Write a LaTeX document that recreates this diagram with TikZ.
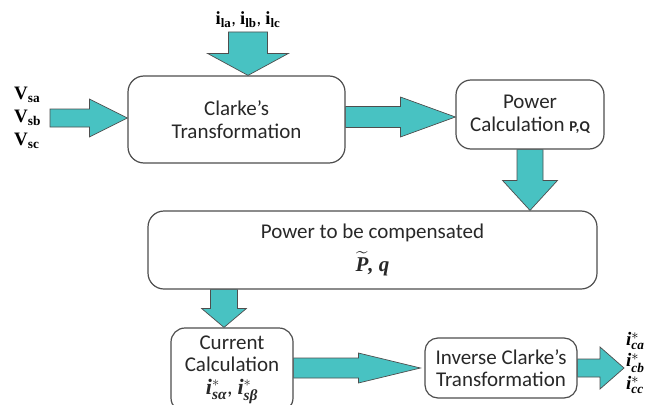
\documentclass[tikz,border=0pt]{standalone}
\usepackage{fontspec}
\usepackage{amsmath}
\setmainfont{Carlito}
\newfontfamily\tnr{Liberation Serif}
\usetikzlibrary{calc}
\definecolor{arrowteal}{RGB}{72,194,194}
\definecolor{edgegray}{RGB}{78,78,78}
\definecolor{textgray}{RGB}{40,40,40}
\newcommand{\fatarrow}[5]{%
	\path ($(#2)!#5!(#1)$) coordinate (hb);
	\draw[fat] ($(#1)!#3!90:(#2)$) -- ($(hb)!#3!90:(#2)$) -- ($(hb)!#4!90:(#2)$) -- (#2)
	-- ($(hb)!#4!-90:(#2)$) -- ($(hb)!#3!-90:(#2)$) -- ($(#1)!#3!-90:(#2)$) -- cycle;}
\newcommand{\refcur}[1]{{\tnr\bfseries\itshape i$^{*}_{\text{\tnr\bfseries\itshape #1}}$}}
\newcommand{\loadcur}[1]{{\tnr\bfseries i\textsubscript{#1}}}

\begin{document}
\begin{tikzpicture}[x=1pt,y=-1pt]
				\tikzstyle{block}=[draw=edgegray,line width=1.2pt,fill=white,align=center,
				text=textgray,font=\fontsize{21}{22.5}\selectfont,inner sep=2pt]
				\tikzstyle{fat}=[fill=arrowteal,draw=edgegray,line width=0.7pt,line join=miter]
				\tikzstyle{lbl}=[inner sep=0pt,font=\fontsize{19}{22}\selectfont]
				\useasboundingbox (0,0) rectangle (660,404);
				\fill[white] (0,0) rectangle (660,404);
				\clip (0,0) rectangle (660,404);
				\node[block,rounded corners=16pt,minimum width=217pt,minimum height=87pt] (clarke) at (236.5,119.5) {Clarke's\\Transformation};
				\node[block,rounded corners=15pt,minimum width=148pt,minimum height=69pt] (power) at (530,114.5) {Power\\Calculation {\bfseries\fontsize{15}{16}\selectfont P,Q}};
				\node[block,rounded corners=16pt,minimum width=449pt,minimum height=78pt] (big) at (372.5,250) {Power to be compensated\\[9pt]
					{\tnr\bfseries\itshape $\widetilde{\text{\tnr\bfseries\itshape P}}$, q}};
				\node[block,rounded corners=14pt,minimum width=122pt,minimum height=84pt] (current) at (232,370) {Current\\Calculation\\
					{\fontsize{22}{22.5}\selectfont\refcur{sα}, \refcur{sβ}}};
				\node[block,rounded corners=13pt,minimum width=152pt,minimum height=60pt] (inverse) at (501,368) {Inverse Clarke's\\Transformation};
				\node[lbl,anchor=west] (vsa) at (14,95) {\tnr\bfseries V\textsubscript{sa}};
				\node[lbl,anchor=west] (vsb) at (14,118) {\tnr\bfseries V\textsubscript{sb}};
				\node[lbl,anchor=west] (vsc) at (14,141) {\tnr\bfseries V\textsubscript{sc}};
				\node[lbl,font=\fontsize{18.5}{20}\selectfont] (ilabel) at (248,20) {\loadcur{la}, \loadcur{lb}, \loadcur{lc}};
				\node[lbl,anchor=west] (ica) at (626,341) {\refcur{ca}};
				\node[lbl,anchor=west] (icb) at (626,363) {\refcur{cb}};
				\node[lbl,anchor=west] (icc) at (626,385) {\refcur{cc}};
				\coordinate (vin) at (50,118);
				\coordinate (vend) at (vin -| clarke.west);
				\coordinate (iin) at (248,32);
				\coordinate (iend) at (iin |- clarke.north);
				\coordinate (cp) at ($(clarke.east)!0.5!(clarke.east |- power.west)$);
				\coordinate (cpend) at (cp -| power.west);
				\coordinate (pend) at (power.south |- big.north);
				\coordinate (dn) at (224,0);
				\coordinate (dnstart) at (dn |- big.south);
				\coordinate (dnend) at (dn |- current.north);
				\coordinate (ci) at (current.east |- inverse.west);
				\coordinate (ciend) at ($(inverse.west)+(-4,0)$);
				\coordinate (iout) at (624,0);
				\coordinate (ioutend) at (iout |- inverse.east);
				\fatarrow{vin}{vend}{9pt}{19pt}{38pt}
				\fatarrow{iin}{iend}{19.5pt}{40.5pt}{22pt}
				\fatarrow{cp}{cpend}{10.5pt}{20pt}{55pt}
				\fatarrow{power.south}{pend}{13pt}{27.5pt}{30pt}
				\fatarrow{dnstart}{dnend}{13.5pt}{22.5pt}{19pt}
				\fatarrow{ci}{ciend}{10pt}{15pt}{62pt}
				\fatarrow{inverse.east}{ioutend}{9pt}{21pt}{24pt}
				\end{tikzpicture}
\end{document}
